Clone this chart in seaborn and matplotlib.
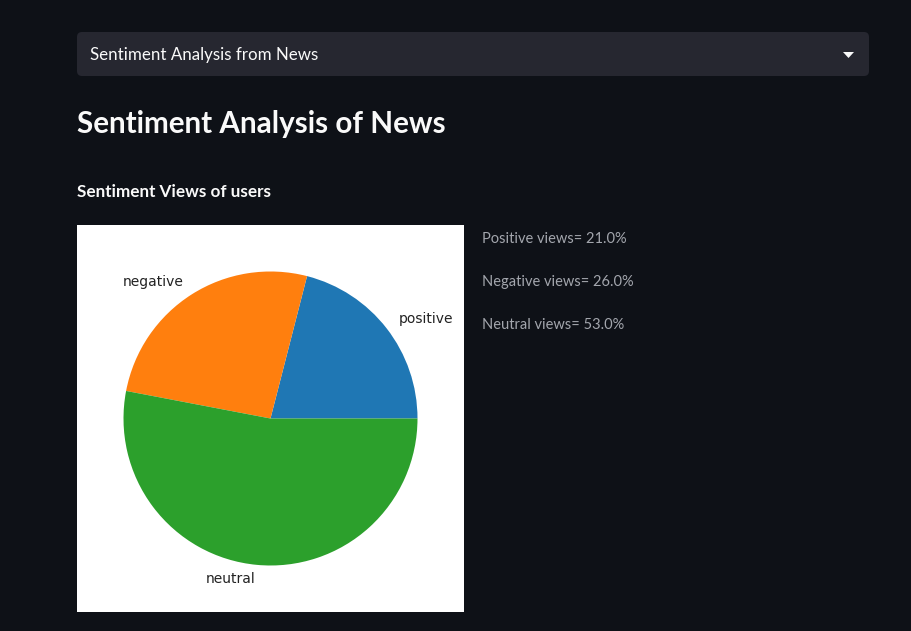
import matplotlib
matplotlib.use("Agg")
import matplotlib.pyplot as plt
import seaborn as sns
from matplotlib.patches import FancyBboxPatch, Polygon, Rectangle

# donnees du camembert
labels = ["positive", "negative", "neutral"]
values = [21.0, 26.0, 53.0]
view_names = ["Positive", "Negative", "Neutral"]

W, H = 912, 631
BG = "#0e1117"
UI_FONT = ["Lato", "DejaVu Sans"]

sns.set_style("white")
colors = sns.color_palette("tab10")[:3]

fig = plt.figure(figsize=(W / 100, H / 100), dpi=100, facecolor=BG)

# calque "page" en pixels
page = fig.add_axes([0, 0, 1, 1])
page.set_xlim(0, W)
page.set_ylim(H, 0)
page.axis("off")
page.set_facecolor(BG)

# selectbox
page.add_patch(FancyBboxPatch((77, 32), 792, 44, boxstyle="round,pad=0,rounding_size=5",
                              facecolor="#262730", edgecolor="none"))
page.text(90, 55, "Sentiment Analysis from News", color="#fafafa", fontsize=12.2,
          family=UI_FONT, va="center", ha="left")
page.add_patch(Polygon([[843, 52], [854, 52], [848.5, 58]], closed=True,
                       facecolor="#fafafa", edgecolor="none"))

# titres
page.text(77, 124, "Sentiment Analysis of News", color="#fafafa", fontsize=21.3,
          fontweight="bold", family=UI_FONT, va="center", ha="left")
page.text(77, 192, "Sentiment Views of users", color="#fafafa", fontsize=12.3,
          fontweight="bold", family=UI_FONT, va="center", ha="left")

# textes a droite
for i, (name, v) in enumerate(zip(view_names, values)):
    page.text(482, 239 + i * 43, f"{name} views= {v:.1f}%", color="#a3a6ad",
              fontsize=10.5, family=UI_FONT, va="center", ha="left")

# image du camembert (fond blanc)
left, top, size = 77, 225, 387
page.add_patch(Rectangle((left, top), size, size, facecolor="white", edgecolor="none"))
ax = fig.add_axes([left / W, (H - top - size) / H, size / W, size / H])
ax.pie(values, labels=labels, colors=colors, startangle=0,
       wedgeprops={"linewidth": 0, "edgecolor": "none"},
       textprops={"fontsize": 10, "family": "DejaVu Sans", "color": "#222222"})
ax.set_aspect("equal")
lim = (size / 2) / 147
ax.set_xlim(-lim, lim)
ax.set_ylim(-lim, lim)
ax.axis("off")

fig.savefig("out.png", dpi=100, facecolor=BG)
